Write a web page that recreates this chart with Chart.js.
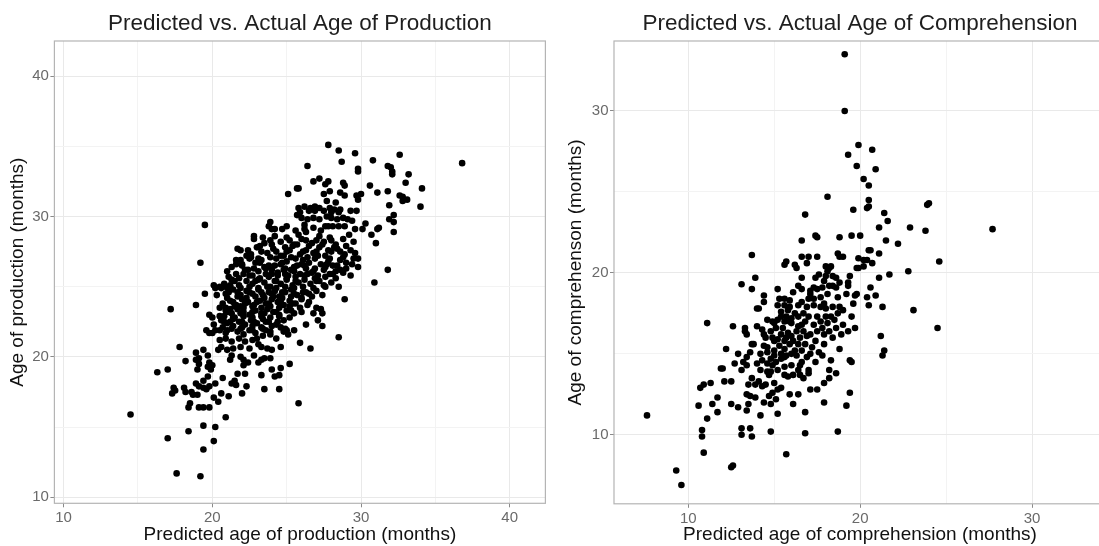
<!DOCTYPE html>
<html>
<head>
<meta charset="utf-8">
<title>Predicted vs. Actual Age</title>
<script src="https://cdn.jsdelivr.net/npm/chart.js@4.4.1/dist/chart.umd.min.js"></script>
<style>
  html, body { margin: 0; padding: 0; overflow: hidden; background: #fff; }
  #wrap { position: relative; width: 1099px; height: 546px; overflow: hidden; }
  canvas { position: absolute; top: 0; }
  #prodChart { left: 0; }
  #compChart { left: 549px; }
</style>
</head>
<body>
<div id="wrap">
  <canvas id="prodChart" width="549" height="546"></canvas>
  <canvas id="compChart" width="561" height="546"></canvas>
</div>
<script>
// [predicted, actual] in months
const productionPoints = [
  [27.8,35.1],[28.5,34.7],[29.6,34.5],[32.6,34.4],[28.7,33.9],[30.8,34.0],[36.8,33.8],[26.4,33.6],[31.8,33.6],[32.0,33.5],
  [32.1,33.2],[32.1,33.0],[29.8,33.4],[29.8,33.2],[33.2,33.0],[27.2,32.7],[27.8,32.5],[27.6,32.3],[26.8,32.5],[28.8,32.4],
  [28.9,32.2],[30.6,32.2],[33.0,32.4],[31.8,31.8],[31.1,31.7],[34.1,32.0],[25.7,32.0],[25.8,32.0],[25.1,31.6],[27.5,31.6],
  [27.9,31.8],[28.6,31.7],[28.9,31.5],[29.7,31.5],[30.0,31.6],[29.8,31.2],[32.6,31.5],[32.8,31.4],[33.1,31.2],[32.8,31.1],
  [27.7,31.1],[28.3,31.0],[34.0,30.7],[31.9,30.8],[29.7,30.4],[29.3,30.4],[25.8,30.6],[26.2,30.7],[26.6,30.6],[26.9,30.7],
  [27.2,30.6],[25.9,30.3],[26.5,30.4],[26.9,30.4],[27.5,30.4],[27.9,30.6],[28.2,30.5],[28.6,30.5],[28.5,30.3],[28.0,30.3],
  [25.7,30.1],[26.0,29.9],[26.4,29.8],[26.8,29.9],[27.2,29.8],[27.7,30.0],[28.0,29.9],[28.4,29.8],[28.8,29.9],[29.1,29.8],
  [32.2,30.1],[31.9,29.8],[32.2,29.6],[31.1,29.1],[30.1,29.1],[30.7,28.7],[31.0,28.1],[32.2,28.9],[19.5,29.4],[23.8,29.3],
  [23.9,29.6],[24.0,29.1],[24.7,29.1],[22.8,28.6],[23.4,28.5],[19.2,26.7],[21.7,27.7],[21.9,26.9],[22.6,27.1],[31.8,26.2],
  [30.9,25.3],[28.9,24.1],[27.4,22.2],[28.5,21.4],[17.2,23.4],[18.9,23.7],[19.5,24.5],[20.1,25.1],[20.2,24.9],[20.5,25.0],
  [19.8,21.7],[20.5,23.5],[20.5,22.9],[20.8,22.5],[17.8,20.7],[18.2,19.7],[17.0,19.1],[16.3,18.9],[18.9,20.3],[18.9,19.8],
  [19.1,19.9],[19.7,20.1],[19.8,19.6],[19.9,19.1],[19.7,18.6],[19.4,18.3],[18.9,18.1],[19.1,17.9],[19.4,17.8],[19.6,17.7],
  [19.8,17.9],[17.4,17.8],[17.5,17.6],[17.3,17.4],[18.1,17.8],[18.2,17.5],[18.6,17.5],[18.7,17.3],[19.0,17.3],[19.1,16.4],
  [19.4,16.4],[19.8,16.4],[18.4,16.4],[18.5,16.7],[20.1,17.1],[20.4,16.8],[20.6,17.4],[21.1,17.2],[20.9,15.7],[19.4,15.1],
  [20.2,15.0],[18.4,14.7],[17.0,14.2],[20.1,14.0],[19.4,13.4],[17.6,11.7],[19.2,11.5],[14.5,15.9],[25.8,16.7],[24.5,17.7],
  [23.5,17.7],[23.3,18.7],[24.0,19.1],[24.2,18.6],[24.5,18.7],[25.2,19.5],[21.7,18.8],[21.5,18.3],[21.3,18.1],[21.6,18.0],
  [22.3,17.9],[22.0,17.4],[22.2,18.8],[20.7,18.5],[20.2,18.1],[25.9,21.0],[26.6,20.6],[24.6,19.2],[24.0,20.5],[23.9,19.9],
  [24.6,20.7],[25.1,21.6],[24.9,22.0],[26.3,22.3],[27.4,23.1],[27.3,23.4],
  [19.0,19.1],[19.1,19.5],[19.4,20.5],[19.7,19.3],[20.0,19.4],
  [21.2,19.8],[21.3,20.1],[21.9,20.0],[22.1,19.8],[22.1,19.4],[22.4,19.6],[22.8,20.1],[23.1,19.6],[23.3,19.8],[23.5,19.9],
  [23.7,20.6],[23.3,20.7],[23.1,20.9],[22.5,20.6],[21.9,20.7],[21.4,20.6],[21.0,20.5],[20.6,20.7],[20.4,20.5],[20.5,21.2],
  [20.9,21.3],[21.3,21.1],[21.8,21.3],[22.2,21.1],[22.7,21.2],[23.0,21.3],[23.4,21.5],[23.9,21.6],[24.3,21.3],[24.8,21.8],
  [25.0,21.9],[25.5,21.9],
  [19.8,23.0],[20.0,22.8],[20.3,24.4],[21.0,24.9],[21.2,25.1],[21.9,23.6],[21.2,23.4],[21.4,22.8],[20.5,21.9],[20.0,21.7],
  [19.6,21.9],[20.1,22.3],[27.1,22.6],[26.8,23.1],[26.4,23.7],[27.0,23.5],
  [26.3,28.9],[26.2,29.1],[27.6,29.3],[27.8,29.3],[28.1,29.3],[28.5,29.3],[29.4,29.7],[31.2,29.2],[29.8,27.0],
  // dense core
  [22.8,28.4],[23.5,28.1],[24.2,28.6],[24.6,28.2],[25.0,28.5],[25.5,28.0],[25.8,28.7],[26.3,28.3],[26.7,28.1],[27.2,28.6],
  [27.5,28.2],[27.9,28.5],[28.3,28.0],[28.8,28.4],[29.2,28.7],[29.5,28.2],
  [21.9,27.6],[22.6,27.3],[23.0,27.8],[23.7,27.4],[24.1,27.7],[24.6,27.2],[25.0,27.5],[25.4,27.9],[25.9,27.3],[26.3,27.6],
  [26.8,27.4],[27.2,27.8],[27.6,27.2],[28.0,27.5],[28.4,27.7],[28.9,27.3],[29.3,27.6],[29.6,27.4],
  [21.6,26.9],[22.0,26.6],[22.5,27.0],[22.9,26.7],[23.3,26.9],[23.8,26.5],[24.3,27.0],[24.6,26.6],[25.0,26.8],[25.3,27.1],
  [25.7,26.5],[26.1,26.9],[26.5,26.7],[26.9,27.0],[27.3,26.6],[27.8,26.8],[28.1,26.5],[28.6,26.9],[29.0,26.7],[29.4,26.6],
  [29.8,26.4],
  [21.0,26.1],[21.6,25.9],[22.2,26.2],[22.7,25.8],[23.1,26.1],[23.6,26.3],[24.0,25.9],[24.4,26.0],[24.8,26.2],[25.1,25.8],
  [25.5,26.1],[25.9,25.9],[26.3,26.3],[26.7,26.0],[27.1,25.8],[27.5,26.2],[27.9,25.9],[28.3,26.1],[28.8,26.0],[29.3,25.8],
  [20.8,25.2],[21.3,25.5],[21.8,25.1],[22.3,25.4],[22.7,25.2],[23.1,25.5],[23.5,25.3],[23.9,25.0],[24.3,25.4],[24.6,25.2],
  [25.0,25.5],[25.4,25.1],[25.8,25.3],[26.2,25.5],[26.6,25.2],[27.0,25.4],[27.5,25.1],[28.0,25.3],[28.5,25.0],
  [20.9,24.5],[21.4,24.8],[21.9,24.4],[22.3,24.7],[22.7,24.5],[23.1,24.8],[23.4,24.4],[23.8,24.6],[24.2,24.7],[24.5,24.3],
  [24.9,24.6],[25.3,24.8],[25.7,24.4],[26.1,24.6],[26.5,24.5],[27.0,24.7],[27.4,24.4],
  [20.7,23.8],[21.2,24.0],[21.6,23.7],[22.0,24.1],[22.4,23.9],[22.8,23.7],[23.2,24.0],[23.6,23.8],[24.0,24.1],[24.4,23.9],
  [24.8,23.7],[25.2,24.0],[25.6,23.8],[26.0,24.1],[26.5,23.9],
  [20.9,23.3],[21.3,23.1],[21.7,23.4],[22.1,23.2],[22.5,23.0],[22.9,23.3],[23.3,23.1],[23.7,23.4],[24.1,23.2],[24.5,23.0],
  [25.0,23.3],[25.5,23.1],[26.0,23.2],
  [20.6,22.6],[21.0,22.4],[21.4,22.7],[21.8,22.5],[22.2,22.3],[22.6,22.6],[23.0,22.4],[23.4,22.7],[23.8,22.5],[24.3,22.3],
  [24.8,22.6],
  [20.2,21.9],[20.9,21.7],[21.3,22.0],[21.7,21.8],[22.1,21.6],[22.5,21.9],[22.9,21.7],[23.4,22.0],[23.9,21.8],
  [24.2,29.1],[25.0,29.3],[25.6,29.0],[26.2,29.4],[26.8,29.2],[27.3,29.0],[28.9,29.3],[29.6,29.1],[30.3,29.5],
  [23.2,27.9],[24.0,28.0],[24.9,27.8],[25.7,28.0],[26.5,27.9],[27.4,28.0],[28.2,27.8],[29.0,27.9],
  [22.3,27.2],[23.1,27.0],[23.9,27.1],[24.8,27.2],[25.6,27.0],[26.4,27.1],[27.1,27.2],[27.9,27.0],[28.8,27.1],[29.5,27.0],
  [21.3,26.4],[22.0,26.5],[22.8,26.3],[23.5,26.4],[24.2,26.5],[24.9,26.3],[25.5,26.4],[26.2,26.5],[26.9,26.3],[27.6,26.4],
  [28.4,26.5],[29.0,26.3],
  [21.1,25.7],[21.8,25.6],[22.5,25.8],[23.2,25.6],[23.8,25.7],[24.4,25.8],[25.0,25.6],[25.6,25.7],[26.2,25.8],[26.9,25.6],
  [27.6,25.7],[28.3,25.6],
  [20.6,24.9],[21.2,25.0],[21.9,24.9],[22.5,25.0],[23.1,24.9],[23.7,25.0],[24.3,24.9],[24.9,25.0],[25.5,24.9],[26.1,25.0],
  [26.8,24.9],[27.6,25.0],
  [21.0,24.2],[21.7,24.3],[22.3,24.2],[22.9,24.3],[23.5,24.2],[24.1,24.3],[24.7,24.2],[25.3,24.3],[26.0,24.2],[26.7,24.3],
  [20.9,23.5],[21.5,23.6],[22.1,23.5],[22.7,23.6],[23.3,23.5],[23.9,23.6],[24.5,23.5],[25.2,23.6],[25.9,23.5],
  [20.8,22.9],[21.5,22.8],[22.1,22.9],[22.7,22.8],[23.3,22.9],[23.9,22.8],[24.5,22.9],[25.2,22.8],
  [20.7,22.1],[21.4,22.2],[22.0,22.1],[22.7,22.2],[23.3,22.1],[24.0,22.2],[24.6,22.1],
  [21.6,26.6],[22.4,26.2],[23.2,26.7],[24.0,26.2],[24.7,26.7],[25.3,26.2],[26.0,26.6],[26.8,26.1],[27.7,26.6],[28.6,26.2],
  [21.5,25.4],[22.1,25.9],[22.9,25.4],[23.6,25.9],[24.2,25.4],[24.9,25.9],[25.6,25.4],[26.4,25.9],[27.2,25.4],[28.1,25.9],
  [21.1,24.6],[21.7,24.6],[22.5,24.6],[23.3,24.6],[24.0,24.5],[24.7,24.6],[25.5,24.5],[26.3,24.6],
  [21.4,23.9],[22.2,23.8],[23.0,23.9],[23.8,23.8],[24.6,23.9],[25.4,23.8],
  [21.1,23.2],[21.9,23.1],[22.7,23.2],[23.5,23.1],[24.3,23.2],[25.3,23.3],
  [21.2,22.5],[22.0,22.5],[22.8,22.5],[23.6,22.5],[24.4,22.5],
  [21.0,21.9],[21.9,22.0],[22.7,21.9],[23.6,21.9],
  [22.4,27.6],[23.3,27.5],[24.3,27.5],[25.2,27.6],[26.1,27.5],[27.0,27.5],[27.8,27.6],[28.6,27.5],
  [23.9,28.3],[25.2,28.3],[26.0,28.4],[27.0,28.3],[28.0,28.3]
];

const comprehensionPoints = [
  [19.1,33.5],[19.1,30.0],[19.9,27.9],[20.7,27.6],[19.3,27.3],[19.8,26.6],[20.9,26.4],[20.2,25.8],[20.5,25.4],[18.1,24.7],
  [20.5,24.5],[20.4,24.0],[20.5,24.1],[19.6,23.9],[16.8,23.6],[21.4,23.7],[21.6,23.2],[24.0,24.3],[23.9,24.2],[21.1,22.8],
  [22.9,22.8],[23.8,22.6],[27.7,22.7],[19.5,22.3],[20.0,22.3],[18.8,22.2],[16.6,22.0],[17.4,22.3],[17.5,22.2],[21.5,22.0],
  [22.2,21.8],[18.7,21.2],[18.8,21.0],[19.0,21.0],[20.5,21.4],[20.6,21.4],[21.1,21.2],[13.7,21.1],[16.6,21.0],[17.0,21.0],
  [17.5,21.0],[19.9,20.9],[20.4,20.8],[24.6,20.7],[15.7,20.7],[15.6,20.5],[16.2,20.5],[16.3,20.3],[18.0,20.4],[18.2,20.3],
  [18.3,20.4],[19.4,19.8],[19.8,20.3],[19.9,20.3],[20.2,20.4],[20.2,20.8],[20.7,20.6],[21.7,19.9],[22.8,20.1],[13.9,19.7],
  [16.6,19.7],[17.6,19.9],[17.4,19.7],[18.0,19.8],[18.4,19.8],[18.6,19.7],[19.3,19.4],[19.3,19.2],[21.1,19.7],[13.1,19.3],
  [13.7,19.0],[15.2,19.0],[16.6,19.0],[17.1,18.9],[17.3,19.1],[17.5,19.0],[17.8,19.1],[18.2,19.2],[18.4,19.2],[18.6,19.1],
  [19.2,18.7],[19.7,18.6],[19.8,18.7],[20.4,18.5],[20.9,18.6],[23.1,17.7],[21.3,17.9],[20.5,18.0],[14.4,18.6],[14.4,18.2],
  [15.3,18.4],[15.6,18.4],[15.9,18.3],[13.3,16.6],[14.0,17.8],[14.1,17.8],[12.6,16.7],[11.1,16.9],[24.5,16.6],[21.2,16.1],
  [21.4,15.2],[21.3,14.9],[19.4,14.6],[19.5,14.5],[19.4,12.6],[19.2,11.8],[18.7,10.2],[16.8,10.1],[16.8,11.4],[15.7,8.8],
  [14.8,10.2],[15.2,11.3],[14.2,11.2],[13.1,10.4],[13.1,10.0],[13.6,10.4],[13.7,9.9],[14.4,12.0],[13.5,11.9],[13.4,11.5],
  [12.9,11.7],[12.5,11.9],[11.7,11.4],[11.4,11.9],[10.6,11.8],[11.1,11.0],[10.8,10.3],[10.8,9.9],[10.9,8.9],[12.5,8.0],
  [12.6,8.1],[9.3,7.8],[9.6,6.9],[7.6,11.2],[10.9,13.1],[10.7,12.9],[11.3,13.2],[11.7,12.3],[11.9,14.1],[12.0,14.1],
  [12.1,13.3],[12.5,13.3],[12.2,15.3],[12.7,14.4],[12.9,15.0],[13.2,14.5],[13.4,14.8],[13.1,14.0],[13.5,13.1],[13.7,13.5],
  [13.9,13.1],[13.4,12.5],[13.6,12.4],[14.1,13.3],[14.3,13.0],[14.5,13.1],[14.7,13.7],[14.8,13.9],[15.0,13.2],[15.2,12.8],
  [14.7,12.4],[14.8,11.9],[15.6,13.7],[15.8,13.6],[16.1,13.7],[15.9,12.5],[16.4,12.5],[17.1,12.8],[17.5,12.8],[17.9,12.0],
  [17.9,13.2],[18.2,13.5],[18.2,14.0],[18.6,13.8],[18.8,15.3],[17.0,13.8],[17.0,14.0],[16.5,14.3],[16.6,14.5],
  // dense core
  [17.1,18.7],[17.7,18.5],[17.3,18.4],[17.9,18.1],[18.1,18.7],[18.7,18.5],[18.8,17.9],[18.4,17.9],[18.0,17.8],[17.7,17.9],
  [17.3,18.0],[16.9,17.9],[16.7,17.5],[17.0,17.3],[17.5,17.3],[18.0,17.3],[18.3,17.3],[18.7,17.5],[19.0,17.7],[19.6,18.1],
  [19.5,17.3],[19.0,16.8],[18.6,16.6],[18.2,16.4],[17.9,16.2],[17.5,16.4],[17.1,16.2],[16.7,16.4],[16.5,16.0],[16.8,15.6],
  [17.2,15.4],[17.6,15.1],[16.9,14.8],[17.4,14.5],[17.9,15.6],[19.3,16.4],[19.7,16.6],[18.3,14.6],[16.5,13.7],[16.9,20.6],
  [18.1,20.1],
  [14.9,17.0],[15.2,17.1],[15.4,17.3],[15.7,17.3],[15.9,17.0],[15.5,16.6],[15.8,16.3],[15.4,16.2],[15.7,16.0],[16.1,15.8],
  [16.3,16.4],[16.6,16.8],[16.4,17.3],[13.3,16.4],[13.4,16.2],[14.0,16.7],[14.3,16.5],[14.4,16.2],[14.5,16.0],[14.4,15.5],
  [14.6,15.4],[13.7,15.6],[13.8,15.6],
  [14.0,14.4],[14.3,14.6],[14.6,14.4],[14.8,14.7],[14.9,14.3],[15.1,14.5],[15.4,14.7],[15.6,14.8],[13.6,15.1],[13.4,14.3],
  [15.4,12.9],[16.7,13.5],[13.9,12.3],[14.9,12.6],[15.1,12.2],[16.1,11.9],[16.1,18.8],[20.6,19.1],
  [15.0,15.8],[15.3,15.5],[15.6,15.3],[15.9,15.6],[16.2,15.2],[15.1,16.6],[15.4,17.6],[15.8,17.7],[16.2,17.5],[16.0,16.9],
  [16.3,14.9],[15.7,14.9],[15.0,15.2],[14.8,16.4],[16.4,18.0],[15.6,18.0],
  [14.6,17.1],[15.0,16.9],[15.6,17.0],[16.0,17.2],[16.4,16.7],[16.8,17.0],[17.3,16.8],[17.7,17.0],[18.1,16.9],[18.5,17.1],
  [14.9,16.0],[15.2,15.9],[15.6,15.8],[16.0,16.1],[16.4,15.6],[16.9,16.1],[17.4,15.8],[17.8,16.6],[18.4,16.0],[18.9,16.2],
  [14.2,15.0],[14.6,15.1],[15.0,14.9],[15.4,15.0],[16.0,15.0],[16.6,15.2],[17.1,15.0],[17.8,14.9],
  [14.2,14.0],[14.6,13.9],[15.2,14.0],[15.6,14.2],[16.0,14.3],[16.4,14.0],
  [15.2,18.0],[15.9,17.9],[16.6,18.2],[17.0,18.4],[16.4,19.2],[17.9,19.5],[18.8,19.4]
];

const productionTicks = [10, 20, 30, 40];
const comprehensionTicks = [10, 20, 30];

const productionTitles = {
  main: "Predicted vs. Actual Age of Production",
  x: "Predicted age of production (months)",
  y: "Age of production (months)"
};
const comprehensionTitles = {
  main: "Predicted vs. Actual Age of Comprehension",
  x: "Predicted age of comprehension (months)",
  y: "Age of comprehenson (months)"
};

const FONT = '"Liberation Sans", Arial, Helvetica, sans-serif';

// panel border + plot title, drawn on top like ggplot's theme_bw
const panelPlugin = {
  id: "panel",
  afterDraw(chart, args, opts) {
    const { ctx, chartArea: a } = chart;
    ctx.save();
    ctx.strokeStyle = "#b4b4b4";
    ctx.lineWidth = 1.2;
    ctx.strokeRect(a.left, a.top, a.right - a.left, a.bottom - a.top);
    ctx.fillStyle = "#1e1e1e";
    ctx.font = "22.5px " + FONT;
    ctx.textAlign = "center";
    ctx.textBaseline = "alphabetic";
    ctx.fillText(opts.title, (a.left + a.right) / 2, 29.5);
    ctx.restore();
  }
};

function makeAxis(p, horizontal) {
  const majors = p.ticks;
  return {
    type: "linear",
    position: horizontal ? "bottom" : "left",
    min: horizontal ? p.xMin : p.yMin,
    max: horizontal ? p.xMax : p.yMax,
    afterFit: (s) => {
      if (horizontal) s.height = p.xAxisH;
      else s.width = p.yAxisW;
    },
    border: { display: false },
    grid: {
      color: (c) => (c.tick && majors.includes(c.tick.value) ? "#e9e9e9" : "#f3f3f3"),
      lineWidth: 1,
      tickLength: 4,
      tickColor: (c) => (c.tick && majors.includes(c.tick.value) ? "#8a8a8a" : "rgba(0,0,0,0)")
    },
    ticks: {
      stepSize: 5,
      includeBounds: false,
      autoSkip: false,
      maxRotation: 0,
      padding: horizontal ? 2 : 1.5,
      color: "#6a6a6a",
      font: { family: FONT, size: 15 },
      callback: (v) => (majors.includes(v) ? String(v) : "")
    },
    title: {
      display: true,
      text: horizontal ? p.titles.x : p.titles.y,
      color: "#111",
      font: { family: FONT, size: 19 },
      padding: horizontal ? { top: 0, bottom: 0 } : { top: p.yTitlePad, bottom: 0 }
    }
  };
}

function makeChart(id, points, p) {
  return new Chart(document.getElementById(id), {
    type: "scatter",
    data: {
      datasets: [{
        data: points.map((pt) => ({ x: pt[0], y: pt[1] })),
        pointRadius: 3.3,
        pointBackgroundColor: "#000",
        pointBorderWidth: 0,
        pointHoverRadius: 3.3
      }]
    },
    options: {
      responsive: false,
      animation: false,
      events: [],
      layout: { padding: { top: 41, right: p.padRight, bottom: 0, left: 0 } },
      plugins: {
        legend: { display: false },
        tooltip: { enabled: false },
        panel: { title: p.titles.main }
      },
      scales: {
        x: makeAxis(p, true),
        y: makeAxis(p, false)
      }
    },
    plugins: [panelPlugin]
  });
}

makeChart("prodChart", productionPoints, {
  titles: productionTitles, ticks: productionTicks,
  xMin: 9.38, xMax: 42.4, yMin: 9.57, yMax: 42.5,
  yAxisW: 54.4, xAxisH: 42.7, padRight: 3.6, yTitlePad: 6.1
});

makeChart("compChart", comprehensionPoints, {
  titles: comprehensionTitles, ticks: comprehensionTicks,
  xMin: 5.68, xMax: 34.3, yMin: 5.74, yMax: 34.32,
  yAxisW: 65, xAxisH: 42.2, padRight: 4, yTitlePad: 15.6
});
</script>
</body>
</html>
